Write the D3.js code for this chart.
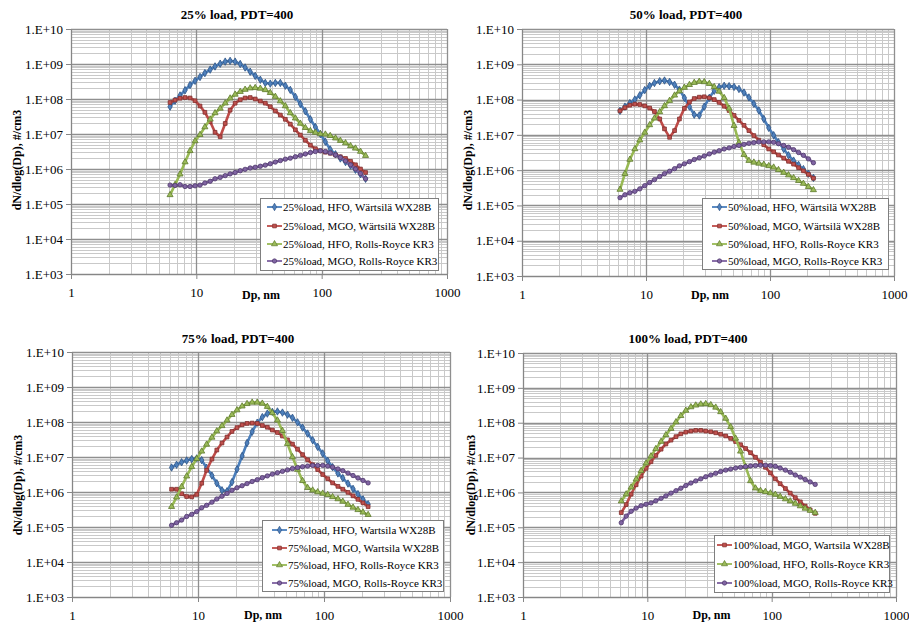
<!DOCTYPE html>
<html><head><meta charset="utf-8">
<script src="https://cdn.jsdelivr.net/npm/d3@7/dist/d3.min.js"></script>
<style>body{margin:0;background:#fff}svg{display:block}</style>
</head><body><svg id="c" width="909" height="623"></svg>
<script>
// Particle diameter channels (nm)
const dp = [6.17,6.76,7.41,8.13,8.91,9.77,10.7,11.7,12.9,14.1,15.5,17.0,18.6,20.4,22.4,24.5,26.9,29.5,32.4,35.5,38.9,42.7,46.8,51.3,56.2,61.7,67.6,74.1,81.3,89.1,97.7,107,117,129,141,155,170,186,204,224];

// 25% load
const l25_hfo_wartsila = [6.03e7,8.91e7,1.26e8,1.78e8,2.51e8,3.31e8,4.27e8,5.5e8,6.92e8,8.51e8,1.02e9,1.17e9,1.23e9,1.17e9,1.0e9,7.94e8,6.03e8,4.57e8,3.55e8,2.88e8,2.75e8,2.88e8,2.88e8,2.4e8,1.82e8,1.15e8,7.24e7,4.47e7,2.63e7,1.58e7,1.0e7,6.03e6,3.63e6,2.63e6,2.0e6,1.58e6,1.26e6,9.55e5,7.08e5,5.25e5];
const l25_mgo_wartsila = [7.94e7,9.33e7,1.05e8,1.1e8,1.07e8,8.91e7,6.31e7,4.17e7,2.24e7,1.12e7,8.32e6,2.0e7,4.79e7,7.59e7,9.55e7,1.07e8,1.1e8,1.0e8,8.71e7,7.59e7,6.03e7,4.57e7,3.47e7,2.63e7,1.91e7,1.32e7,9.33e6,6.61e6,4.79e6,3.8e6,3.31e6,3.02e6,2.82e6,2.51e6,2.24e6,2.0e6,1.66e6,1.32e6,1.0e6,7.94e5];
const l25_hfo_rr = [1.82e5,3.55e5,7.08e5,1.58e6,3.31e6,6.31e6,9.55e6,1.58e7,2.63e7,3.98e7,5.37e7,7.59e7,1.05e8,1.35e8,1.62e8,1.86e8,2.04e8,2.09e8,2.0e8,1.82e8,1.51e8,1.17e8,8.71e7,6.31e7,3.98e7,2.82e7,2.0e7,1.51e7,1.23e7,1.1e7,1.0e7,9.77e6,8.91e6,7.59e6,6.46e6,5.5e6,4.57e6,3.89e6,3.16e6,2.4e6];
const l25_mgo_rr = [3.47e5,3.39e5,3.55e5,3.16e5,3.16e5,3.31e5,3.47e5,3.98e5,4.47e5,5.25e5,5.75e5,6.46e5,7.24e5,7.94e5,8.91e5,9.77e5,1.07e6,1.12e6,1.2e6,1.29e6,1.41e6,1.58e6,1.74e6,1.91e6,2.04e6,2.24e6,2.45e6,2.69e6,2.95e6,3.16e6,3.31e6,3.16e6,2.88e6,2.51e6,2.14e6,1.7e6,1.32e6,1.0e6,7.41e5,5.25e5];

// 50% load
const l50_hfo_wartsila = [4.79e7,6.31e7,7.94e7,1.0e8,1.32e8,1.86e8,2.45e8,2.95e8,3.31e8,3.47e8,3.16e8,2.63e8,1.91e8,1.12e8,6.31e7,3.72e7,3.55e7,6.31e7,1.12e8,1.78e8,2.24e8,2.45e8,2.4e8,2.29e8,2.0e8,1.58e8,1.15e8,7.59e7,4.9e7,2.82e7,1.58e7,9.77e6,6.17e6,3.98e6,2.63e6,1.86e6,1.41e6,1.07e6,7.94e5,6.03e5];
const l50_mgo_wartsila = [4.79e7,5.89e7,6.92e7,7.41e7,7.24e7,6.61e7,5.75e7,4.57e7,2.82e7,1.48e7,8.51e6,1.32e7,2.82e7,5.62e7,8.51e7,1.07e8,1.17e8,1.2e8,1.12e8,1.0e8,8.32e7,6.46e7,4.9e7,3.55e7,2.57e7,1.86e7,1.32e7,9.55e6,7.08e6,5.25e6,3.98e6,3.31e6,2.69e6,2.19e6,1.78e6,1.48e6,1.17e6,9.55e5,7.59e5,5.89e5];
const l50_hfo_rr = [2.82e5,7.94e5,2.0e6,3.98e6,7.08e6,1.17e7,1.91e7,2.95e7,4.47e7,6.61e7,9.33e7,1.32e8,1.74e8,2.19e8,2.63e8,3.02e8,3.24e8,3.16e8,2.82e8,2.29e8,1.7e8,1.12e8,5.62e7,1.82e7,6.03e6,2.75e6,1.86e6,1.66e6,1.55e6,1.45e6,1.32e6,1.2e6,1.02e6,8.51e5,7.24e5,6.03e5,5.01e5,4.17e5,3.39e5,2.75e5];
const l50_mgo_rr = [1.66e5,2.0e5,2.29e5,2.51e5,2.95e5,3.63e5,4.47e5,5.37e5,6.61e5,7.94e5,9.33e5,1.1e6,1.32e6,1.51e6,1.74e6,2.0e6,2.24e6,2.51e6,2.88e6,3.24e6,3.55e6,3.98e6,4.27e6,4.68e6,5.01e6,5.37e6,5.75e6,6.03e6,6.31e6,6.31e6,6.31e6,6.17e6,5.62e6,5.01e6,4.47e6,3.8e6,3.16e6,2.63e6,2.09e6,1.62e6];

// 75% load
const l75_hfo_wartsila = [5.01e6,6.03e6,7.08e6,7.94e6,8.71e6,9.12e6,8.13e6,4.9e6,2.95e6,1.78e6,1.12e6,1.05e6,1.91e6,4.47e6,1.07e7,2.51e7,5.25e7,9.55e7,1.38e8,1.74e8,1.95e8,2.0e8,1.86e8,1.62e8,1.32e8,9.77e7,6.92e7,4.68e7,3.02e7,1.95e7,1.26e7,7.76e6,5.13e6,3.39e6,2.51e6,1.74e6,1.23e6,8.71e5,6.17e5,4.47e5];
const l75_mgo_wartsila = [1.2e6,1.2e6,8.91e5,7.41e5,7.24e5,8.51e5,1.78e6,4.17e6,8.71e6,1.58e7,2.51e7,3.72e7,5.37e7,6.92e7,8.32e7,9.12e7,9.33e7,9.12e7,7.94e7,7.08e7,5.89e7,5.01e7,3.98e7,3.09e7,2.34e7,1.66e7,1.17e7,8.32e6,6.03e6,4.37e6,3.16e6,2.4e6,1.82e6,1.45e6,1.2e6,9.77e5,7.76e5,6.17e5,4.9e5,3.8e5];
const l75_hfo_rr = [3.8e5,7.08e5,1.41e6,2.82e6,5.25e6,8.91e6,1.45e7,2.29e7,3.63e7,5.5e7,7.76e7,1.12e8,1.62e8,2.19e8,2.82e8,3.31e8,3.63e8,3.63e8,3.39e8,2.75e8,1.82e8,1.12e8,5.62e7,2.4e7,1.0e7,4.37e6,2.09e6,1.32e6,1.12e6,1.0e6,9.12e5,8.32e5,7.24e5,6.31e5,5.37e5,4.37e5,3.63e5,3.09e5,2.63e5,2.24e5];
const l75_mgo_rr = [1.12e5,1.32e5,1.58e5,2.0e5,2.29e5,2.75e5,3.55e5,4.17e5,5.13e5,6.31e5,7.59e5,9.12e5,1.12e6,1.32e6,1.51e6,1.74e6,2.0e6,2.24e6,2.57e6,2.88e6,3.24e6,3.55e6,3.89e6,4.27e6,4.68e6,5.01e6,5.25e6,5.5e6,5.75e6,5.75e6,5.75e6,5.5e6,5.13e6,4.57e6,4.07e6,3.47e6,2.95e6,2.51e6,2.14e6,1.82e6];

// 100% load
const l100_mgo_wartsila = [2.63e5,4.47e5,8.91e5,1.66e6,2.95e6,4.9e6,7.59e6,1.15e7,1.74e7,2.45e7,3.16e7,3.98e7,4.79e7,5.37e7,5.75e7,6.03e7,6.03e7,5.75e7,5.5e7,5.13e7,4.68e7,4.17e7,3.55e7,2.88e7,2.34e7,1.82e7,1.38e7,1.02e7,7.41e6,5.25e6,3.63e6,2.45e6,1.78e6,1.29e6,9.55e5,7.08e5,5.37e5,4.07e5,3.16e5,2.51e5];
const l100_hfo_rr = [5.62e5,8.91e5,1.41e6,2.4e6,4.17e6,6.92e6,1.1e7,1.78e7,2.88e7,4.47e7,6.76e7,1.05e8,1.58e8,2.24e8,2.82e8,3.16e8,3.39e8,3.47e8,3.24e8,2.75e8,2.04e8,1.32e8,7.59e7,3.55e7,1.51e7,5.5e6,2.14e6,1.32e6,1.12e6,1.05e6,9.55e5,8.71e5,7.59e5,6.46e5,5.62e5,4.79e5,4.07e5,3.47e5,3.02e5,2.63e5];
const l100_mgo_rr = [1.35e5,2.09e5,2.88e5,3.55e5,4.17e5,4.57e5,5.01e5,5.75e5,6.76e5,7.94e5,9.55e5,1.12e6,1.32e6,1.58e6,1.86e6,2.14e6,2.45e6,2.82e6,3.16e6,3.55e6,3.98e6,4.37e6,4.68e6,5.01e6,5.25e6,5.5e6,5.75e6,5.89e6,6.03e6,6.03e6,5.89e6,5.62e6,5.01e6,4.37e6,3.8e6,3.16e6,2.75e6,2.34e6,2.0e6,1.7e6];

const titles = ["25% load, PDT=400","50% load, PDT=400","75% load, PDT=400","100% load, PDT=400"];
const yTickValues = [1e3,1e4,1e5,1e6,1e7,1e8,1e9,1e10];
const yTickLabels = ["1.E+03","1.E+04","1.E+05","1.E+06","1.E+07","1.E+08","1.E+09","1.E+10"];
const xTickValues = [1,10,100,1000];
const xTickLabels = ["1","10","100","1000"];
const xTitle = "Dp, nm";
const yTitle = "dN/dlog(Dp), #/cm3";

const styles = {
  hfo_w: {line:"#4A7EBB", fill:"#4F81BD", stroke:"#2F5485", sym:d3.symbolDiamond, size:16},
  mgo_w: {line:"#BE4B48", fill:"#C0504D", stroke:"#7E2F2D", sym:d3.symbolSquare, size:14},
  hfo_r: {line:"#98B954", fill:"#9BBB59", stroke:"#5E7A2E", sym:d3.symbolTriangle, size:16},
  mgo_r: {line:"#7D60A0", fill:"#8064A2", stroke:"#4F3A6B", sym:d3.symbolCircle, size:15}
};

const panels = [
  {l:71,r:447,t:29,b:274, title:titles[0], tx:237, ty:19, xty:299, ylx:17, yly:160,
   leg:{x:260,y:198,w:178,h:72,rows:[207,226,244,261],lx:267},
   series:[
    {name:"25%load, HFO, Wärtsilä WX28B", st:"hfo_w", v:l25_hfo_wartsila},
    {name:"25%load, MGO, Wärtsilä WX28B", st:"mgo_w", v:l25_mgo_wartsila},
    {name:"25%load, HFO, Rolls-Royce KR3", st:"hfo_r", v:l25_hfo_rr},
    {name:"25%load, MGO, Rolls-Royce KR3", st:"mgo_r", v:l25_mgo_rr}]},
  {l:522,r:894,t:29,b:276, title:titles[1], tx:686, ty:19, xty:299, ylx:468, yly:160,
   leg:{x:702,y:198,w:186,h:71,rows:[207,226,244,261],lx:712},
   series:[
    {name:"50%load, HFO, Wärtsilä WX28B", st:"hfo_w", v:l50_hfo_wartsila},
    {name:"50%load, MGO, Wärtsilä WX28B", st:"mgo_w", v:l50_mgo_wartsila},
    {name:"50%load, HFO, Rolls-Royce KR3", st:"hfo_r", v:l50_hfo_rr},
    {name:"50%load, MGO, Rolls-Royce KR3", st:"mgo_r", v:l50_mgo_rr}]},
  {l:72,r:450,t:352,b:597, title:titles[2], tx:238, ty:343, xty:619, ylx:18, yly:485,
   leg:{x:262,y:520,w:181,h:71,rows:[530,548,565,583],lx:272},
   series:[
    {name:"75%load, HFO, Wartsila WX28B", st:"hfo_w", v:l75_hfo_wartsila},
    {name:"75%load, MGO, Wartsila WX28B", st:"mgo_w", v:l75_mgo_wartsila},
    {name:"75%load, HFO, Rolls-Royce KR3", st:"hfo_r", v:l75_hfo_rr},
    {name:"75%load, MGO, Rolls-Royce KR3", st:"mgo_r", v:l75_mgo_rr}]},
  {l:523,r:896,t:353,b:597, title:titles[3], tx:688, ty:343, xty:619, ylx:471, yly:485,
   leg:{x:714,y:535,w:175,h:57,rows:[545,564,583],lx:717},
   series:[
    {name:"100%load, MGO, Wartsila WX28B", st:"mgo_w", v:l100_mgo_wartsila},
    {name:"100%load, HFO, Rolls-Royce KR3", st:"hfo_r", v:l100_hfo_rr},
    {name:"100%load, MGO, Rolls-Royce KR3", st:"mgo_r", v:l100_mgo_rr}]}
];

const svg = d3.select("#c");
const serif = "'Liberation Serif', 'Times New Roman', serif";

panels.forEach(p => {
  const x = d3.scaleLog().domain([1,1000]).range([p.l,p.r]);
  const y = d3.scaleLog().domain([1e3,1e10]).range([p.b,p.t]);
  const g = svg.append("g");

  const xMinor = x.ticks(30).filter(v => !xTickValues.includes(v));
  const yMinor = y.ticks(60).filter(v => !yTickValues.some(t => Math.abs(t - v) < t*1e-6));

  // minor grid
  g.append("g").selectAll("line").data(yMinor).join("line")
    .attr("x1",p.l).attr("x2",p.r).attr("y1",d=>Math.round(y(d))+0.5).attr("y2",d=>Math.round(y(d))+0.5)
    .attr("stroke","#c9c9c9").attr("stroke-width",1);
  g.append("g").selectAll("line").data(xMinor).join("line")
    .attr("y1",p.t).attr("y2",p.b).attr("x1",d=>Math.round(x(d))+0.5).attr("x2",d=>Math.round(x(d))+0.5)
    .attr("stroke","#c9c9c9").attr("stroke-width",1);
  // major grid
  g.append("g").selectAll("line").data(yTickValues).join("line")
    .attr("x1",p.l).attr("x2",p.r).attr("y1",d=>Math.round(y(d))+0.5).attr("y2",d=>Math.round(y(d))+0.5)
    .attr("stroke","#8f8f8f").attr("stroke-width",1.3);
  g.append("g").selectAll("line").data(xTickValues).join("line")
    .attr("y1",p.t).attr("y2",p.b).attr("x1",d=>Math.round(x(d))+0.5).attr("x2",d=>Math.round(x(d))+0.5)
    .attr("stroke","#8f8f8f").attr("stroke-width",1.3);

  // axes
  const yAxis = d3.axisLeft(y).tickValues(yTickValues).tickFormat((d,i)=>yTickLabels[i]).tickSize(5).tickPadding(3);
  const ya = g.append("g").attr("transform",`translate(${p.l},0)`).call(yAxis);
  ya.select(".domain").attr("stroke","#868686");
  ya.selectAll(".tick line").attr("stroke","#868686");
  ya.selectAll("text").style("font-family",serif).style("font-size","13px").attr("fill","#000");

  const xAxis = d3.axisBottom(x).tickValues(xTickValues).tickFormat((d,i)=>xTickLabels[i]).tickSize(5).tickPadding(9);
  const xa = g.append("g").attr("transform",`translate(0,${p.b})`).call(xAxis);
  xa.select(".domain").attr("stroke","#868686");
  xa.selectAll(".tick line").attr("stroke","#868686");
  xa.selectAll("text").style("font-family",serif).style("font-size","13px").attr("fill","#000");

  // titles
  g.append("text").attr("x",p.tx).attr("y",p.ty).attr("text-anchor","middle")
    .style("font-family",serif).style("font-weight","bold").style("font-size","13px").text(p.title);
  g.append("text").attr("x",(p.l+p.r)/2+2).attr("y",p.xty).attr("text-anchor","middle")
    .style("font-family",serif).style("font-weight","bold").style("font-size","12px").text(xTitle);
  g.append("text").attr("transform",`translate(${p.ylx+4},${p.yly}) rotate(-90)`).attr("text-anchor","middle")
    .style("font-family",serif).style("font-weight","bold").style("font-size","12px").text(yTitle);

  // series
  const line = d3.line().x((d,i)=>x(dp[i])).y(d=>y(d));
  p.series.forEach(s => {
    const st = styles[s.st];
    g.append("path").attr("d",line(s.v)).attr("fill","none").attr("stroke",st.line).attr("stroke-width",2.6)
      .attr("stroke-linejoin","round");
    g.append("g").selectAll("path").data(s.v).join("path")
      .attr("transform",(d,i)=>`translate(${x(dp[i])},${y(d)})`)
      .attr("d",d3.symbol().type(st.sym).size(st.size))
      .attr("fill",st.fill).attr("stroke",st.stroke).attr("stroke-width",0.8);
  });

  // legend
  const L = p.leg;
  const lg = g.append("g");
  lg.append("rect").attr("x",L.x+0.5).attr("y",L.y+0.5).attr("width",L.w).attr("height",L.h)
    .attr("fill","#fff").attr("stroke","#7f7f7f").attr("stroke-width",1);
  p.series.forEach((s,i) => {
    const st = styles[s.st];
    const yy = L.rows[i];
    lg.append("line").attr("x1",L.lx).attr("x2",L.lx+15).attr("y1",yy).attr("y2",yy)
      .attr("stroke",st.line).attr("stroke-width",1.8);
    lg.append("path").attr("transform",`translate(${L.lx+7.5},${yy})`)
      .attr("d",d3.symbol().type(st.sym).size(st.size)).attr("fill",st.fill).attr("stroke",st.stroke).attr("stroke-width",0.7);
    lg.append("text").attr("x",L.lx+16).attr("y",yy+4).style("font-family",serif).style("font-size","11px")
      .attr("fill","#000").text(s.name);
  });
});
</script>
</body></html>
